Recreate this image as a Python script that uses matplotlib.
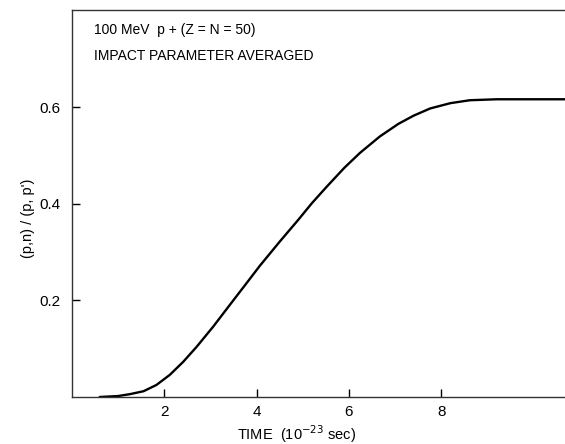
import numpy as np
import matplotlib.pyplot as plt

plt.rcParams['font.family'] = ['Liberation Sans', 'DejaVu Sans']

# values
time = [0.6, 1.0, 1.26, 1.55, 1.83, 2.12, 2.41, 2.70, 3.06, 3.42, 3.75, 4.07,
        4.50, 4.90, 5.20, 5.52, 5.90, 6.24, 6.67, 7.07, 7.40, 7.76, 8.20,
        8.62, 9.20, 10.7]
ratio = [0.0, 0.002, 0.006, 0.012, 0.025, 0.046, 0.073, 0.104, 0.146, 0.191,
         0.232, 0.272, 0.322, 0.367, 0.402, 0.436, 0.475, 0.506, 0.540, 0.566,
         0.583, 0.598, 0.609, 0.615, 0.617, 0.617]

fig = plt.figure(figsize=(5.65, 4.44), dpi=100)
ax = fig.add_axes([72 / 565, 47 / 444, 493 / 565, 387 / 444])

ax.plot(time, ratio, color='black', lw=1.7, solid_capstyle='round',
        solid_joinstyle='round')

ax.set_xlim(0, 10.68)
ax.set_ylim(0, 0.802)
ax.set_xticks([2, 4, 6, 8])
ax.set_yticks([0.2, 0.4, 0.6])
ax.set_xticklabels(['2', '4', '6', '8'])
ax.set_yticklabels(['0.2', '0.4', '0.6'])
ax.tick_params(direction='in', length=6, width=1, labelsize=11, pad=6)
ax.tick_params(axis='y', pad=8)

ax.spines['right'].set_visible(False)
for s in ['left', 'top', 'bottom']:
    ax.spines[s].set_linewidth(1.0)
    ax.spines[s].set_color('#333333')

ax.set_xlabel('TIME  (10$^{-23}$ sec)', fontsize=10.5, va='center')
ax.xaxis.set_label_coords(0.456, -0.097)
ax.set_ylabel("(p,n) / (p, p')", fontsize=10.5, va='center')
ax.yaxis.set_label_coords(-0.089, 0.462)

ax.text(0.044, 0.948, '100 MeV  p + (Z = N = 50)', transform=ax.transAxes,
        fontsize=10, va='center')
ax.text(0.044, 0.880, 'IMPACT PARAMETER AVERAGED', transform=ax.transAxes,
        fontsize=10, va='center')

plt.savefig('out.png', dpi=100)
